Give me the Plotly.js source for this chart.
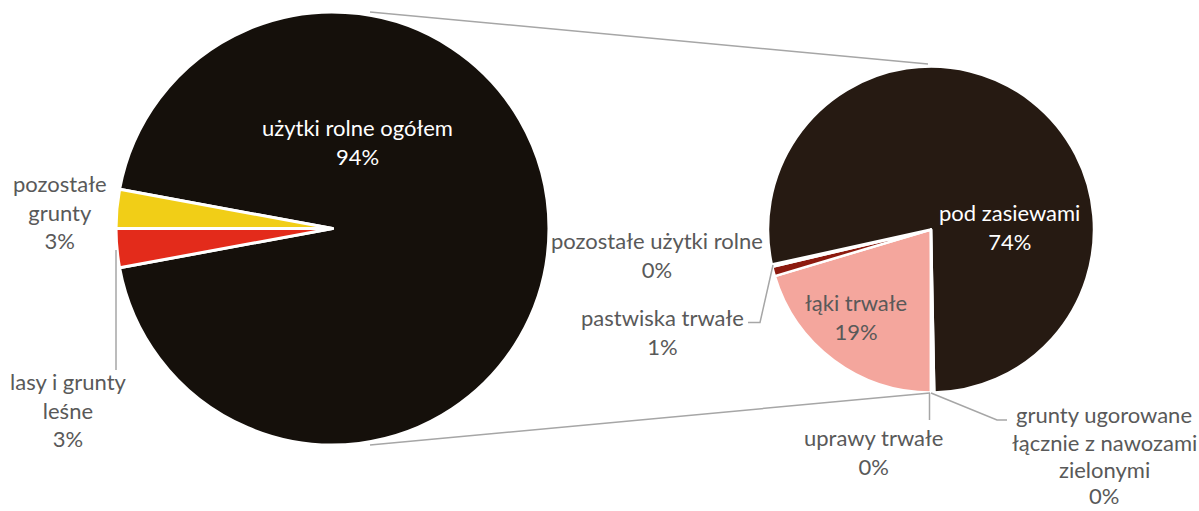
<!DOCTYPE html>
<html>
<head>
<meta charset="utf-8">
<script src="https://cdn.plot.ly/plotly-3.0.1.min.js"></script>
<style>html,body{margin:0;padding:0;background:#fff;}#chart{width:1199px;height:511px;}</style>
</head>
<body>
<div id="chart"></div>
<script>
// ---- data (shares of total land area, %) ----
const mainLabels = ['użytki rolne ogółem', 'lasy i grunty leśne', 'pozostałe grunty'];
const mainValues = [94.2, 2.9, 2.9];
const mainColors = ['#15100b', '#e32b1b', '#f1ce17'];

const subLabels = ['łąki trwałe', 'pastwiska trwałe', 'pozostałe użytki rolne', 'pod zasiewami', 'uprawy trwałe', 'grunty ugorowane łącznie z nawozami zielonymi'];
const subValues = [19.2, 0.9, 0.2, 73.6, 0.2, 0.1];
const subColors = ['#f4a69d', '#8c1a0f', '#2a1d14', '#261a12', '#261a12', '#261a12'];

// ---- geometry (pixels) ----
const W = 1199, H = 511;
const leftPie = {cx: 332.5, cy: 228.5, r: 216.5};
const rightPie = {cx: 931, cy: 229.5, r: 163};
const FONT = 'Lato, "Open Sans", sans-serif';
const FS = 22;
const GREY = '#595959';
const LINE = '#a6a6a6';

const px = x => x / W;
const py = y => 1 - y / H;
function domainOf(p) {
  return {x: [px(p.cx - p.r), px(p.cx + p.r)], y: [py(p.cy + p.r), py(p.cy - p.r)]};
}
const total = mainValues.reduce((a, b) => a + b, 0);
const pct = v => Math.round(v / total * 100) + '%';

const mainRotation = 90 - 180 * mainValues[0] / total;

const traces = [
  {
    type: 'pie', labels: mainLabels, values: mainValues, sort: false, direction: 'clockwise',
    rotation: mainRotation, domain: domainOf(leftPie), textinfo: 'none', hoverinfo: 'skip',
    marker: {colors: mainColors, line: {color: '#ffffff', width: 3}}
  },
  {
    type: 'pie', labels: subLabels.map(s => s + ' '), values: subValues, sort: false, direction: 'clockwise',
    rotation: 180, domain: domainOf(rightPie), textinfo: 'none', hoverinfo: 'skip',
    marker: {colors: subColors, line: {color: '#ffffff', width: 2.5}}
  }
];

// label placement (pixel centres) and text colours
function lbl(text, x, y, color) {
  return {text: text, x: px(x), y: py(y), xref: 'paper', yref: 'paper', showarrow: false,
    xanchor: 'center', yanchor: 'middle', align: 'center', borderpad: 0,
    font: {family: FONT, size: FS, color: color}};
}
const annotations = [
  lbl(mainLabels[0] + '<br>' + pct(mainValues[0]), 358, 142, '#ffffff'),
  lbl('pozostałe<br>grunty<br>' + pct(mainValues[2]), 60, 212, GREY),
  lbl('lasy i grunty<br>leśne<br>' + pct(mainValues[1]), 68, 410, GREY),
  lbl(subLabels[3] + '<br>' + pct(subValues[3]), 1009, 227, '#ffffff'),
  lbl(subLabels[0] + '<br>' + pct(subValues[0]), 856, 317, GREY),
  lbl(subLabels[2] + '<br>' + pct(subValues[2]), 657, 255, GREY),
  lbl(subLabels[1] + '<br>' + pct(subValues[1]), 662, 332, GREY),
  lbl(subLabels[4] + '<br>' + pct(subValues[4]), 873, 452, GREY),
  lbl('grunty ugorowane', 1104, 414, GREY),
  lbl('łącznie z nawozami', 1104, 442, GREY),
  lbl('zielonymi', 1104, 469, GREY),
  lbl(pct(subValues[5]), 1104, 495, GREY)
];

function path(pts) {
  return {type: 'path', xref: 'paper', yref: 'paper',
    path: pts.map((p, i) => (i ? 'L' : 'M') + px(p[0]) + ',' + py(p[1])).join(' '),
    line: {color: LINE, width: 1.5}};
}
const shapes = [
  // pie-of-pie connectors
  path([[370, 12], [928, 64]]),
  path([[370, 445], [930, 393]]),
  // leader lines
  path([[116, 250], [116, 370]]),
  path([[773, 265], [760, 322.5], [748, 322.5]]),
  path([[929.5, 393], [929.5, 420]]),
  path([[931, 393], [997, 420], [1007, 420]])
];

const layout = {
  width: W, height: H, margin: {l: 0, r: 0, t: 0, b: 0},
  paper_bgcolor: '#ffffff', showlegend: false,
  annotations: annotations, shapes: shapes
};
Plotly.newPlot('chart', traces, layout, {displayModeBar: false, staticPlot: true});
</script>
</body>
</html>
